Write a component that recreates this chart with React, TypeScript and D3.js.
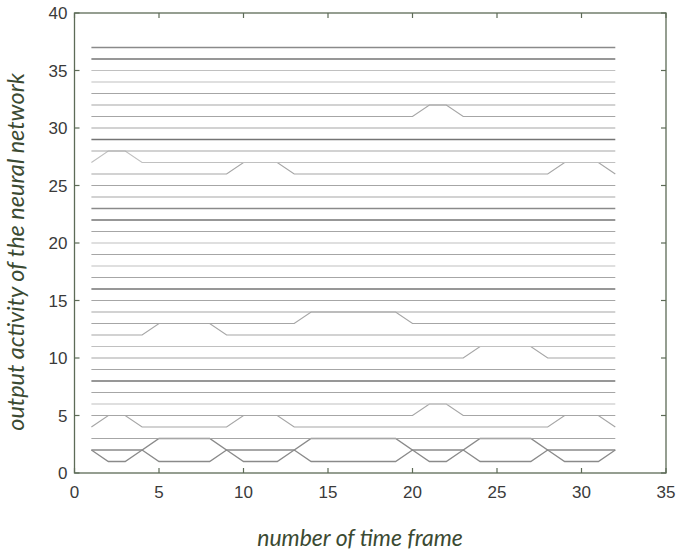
import React, { useEffect, useRef } from "react";
import * as d3 from "d3";

// time frames on the x axis
const timeFrames = [1, 2, 3, 4, 5, 6, 7, 8, 9, 10, 11, 12, 13, 14, 15, 16, 17, 18, 19, 20, 21, 22, 23, 24, 25, 26, 27, 28, 29, 30, 31, 32];
// baseline output level of each neuron
const neuronLevels = [1, 2, 3, 4, 5, 6, 7, 8, 9, 10, 11, 12, 13, 14, 15, 16, 17, 18, 19, 20, 21, 22, 23, 24, 25, 26, 27, 28, 29, 30, 31, 32, 33, 34, 35, 36, 37];
// frames at which a neuron is active (output raised by one)
const activeN1 = [1, 4, 9, 13, 20, 23, 28, 32];
const activeN2 = [5, 6, 7, 8, 14, 15, 16, 17, 18, 19, 24, 25, 26, 27];
const activeN4 = [2, 3, 10, 11, 12, 29, 30, 31];
const activeN5 = [21, 22];
const activeN10 = [24, 25, 26, 27];
const activeN12 = [5, 6, 7, 8];
const activeN13 = [14, 15, 16, 17, 18, 19];
const activeN26 = [10, 11, 12, 29, 30, 31];
const activeN27 = [2, 3];
const activeN31 = [21, 22];

const xTicks = [0, 5, 10, 15, 20, 25, 30, 35];
const yTicks = [0, 5, 10, 15, 20, 25, 30, 35, 40];

const activeByLevel: Record<number, number[]> = {
  1: activeN1, 2: activeN2, 4: activeN4, 5: activeN5, 10: activeN10,
  12: activeN12, 13: activeN13, 26: activeN26, 27: activeN27, 31: activeN31,
};

export default function App() {
  const ref = useRef<SVGSVGElement>(null);
  useEffect(() => {
    document.body.style.margin = "0";
    const svg = d3.select(ref.current);
    svg.selectAll("*").remove();
    const W = 678, H = 554;
    const x = d3.scaleLinear().domain([0, 35]).range([74.5, 666]);
    const y = d3.scaleLinear().domain([0, 40]).range([473, 13]);
    svg.append("rect").attr("width", W).attr("height", H).attr("fill", "#ffffff");

    const darkLevels = [8, 16, 22, 29, 36];
    const midLevels = [1, 2, 23, 37];
    const lightLevels = [6, 11, 18, 20, 27, 34, 35];
    const line = d3.line<[number, number]>().x(d => x(d[0])).y(d => y(d[1]));
    neuronLevels.forEach(level => {
      const act = activeByLevel[level] || [];
      const pts: [number, number][] = timeFrames.map(t => [t, level + (act.includes(t) ? 1 : 0)]);
      let color = "#a6a6a6", w = 1.2;
      if (darkLevels.includes(level)) { color = "#747474"; w = 1.5; }
      else if (midLevels.includes(level)) { color = "#8a8a8a"; w = 1.3; }
      else if (lightLevels.includes(level)) { color = "#c0c0c0"; w = 1.1; }
      svg.append("path").attr("d", line(pts)).attr("fill", "none")
        .attr("stroke", color).attr("stroke-width", w);
    });

    const frame = "#5d6b57";
    const g = svg.append("g");
    g.append("rect").attr("x", x(0)).attr("y", y(40)).attr("width", x(35) - x(0)).attr("height", y(0) - y(40))
      .attr("fill", "none").attr("stroke", frame).attr("stroke-width", 1.3);
    const tl = 5;
    xTicks.forEach(t => {
      g.append("line").attr("x1", x(t)).attr("x2", x(t)).attr("y1", y(0)).attr("y2", y(0) - tl).attr("stroke", frame).attr("stroke-width", 1.2);
      g.append("line").attr("x1", x(t)).attr("x2", x(t)).attr("y1", y(40)).attr("y2", y(40) + tl).attr("stroke", frame).attr("stroke-width", 1.2);
      g.append("text").attr("x", x(t)).attr("y", y(0) + 25).attr("text-anchor", "middle")
        .attr("font-family", "Liberation Sans, Arial, sans-serif").attr("font-size", 17).attr("fill", "#3a3a3a").text(t);
    });
    yTicks.forEach(t => {
      g.append("line").attr("x1", x(0)).attr("x2", x(0) + tl).attr("y1", y(t)).attr("y2", y(t)).attr("stroke", frame).attr("stroke-width", 1.2);
      g.append("line").attr("x1", x(35)).attr("x2", x(35) - tl).attr("y1", y(t)).attr("y2", y(t)).attr("stroke", frame).attr("stroke-width", 1.2);
      g.append("text").attr("x", x(0) - 7).attr("y", y(t) + 6).attr("text-anchor", "end")
        .attr("font-family", "Liberation Sans, Arial, sans-serif").attr("font-size", 17).attr("fill", "#3a3a3a").text(t);
    });

    svg.append("text").attr("x", 360).attr("y", 546).attr("text-anchor", "middle")
      .attr("font-family", "Lato, sans-serif").attr("font-style", "italic").attr("font-size", 23)
      .attr("fill", "#3b4a32").text("number of time frame");
    svg.append("text").attr("transform", "translate(24,252) rotate(-90)").attr("text-anchor", "middle")
      .attr("font-family", "Lato, sans-serif").attr("font-style", "italic").attr("font-size", 23.5)
      .attr("fill", "#3b4a32").text("output activity of the neural network");
  }, []);
  return <svg ref={ref} width={678} height={554} style={{ position: "absolute", left: 0, top: 0 }} />;
}
